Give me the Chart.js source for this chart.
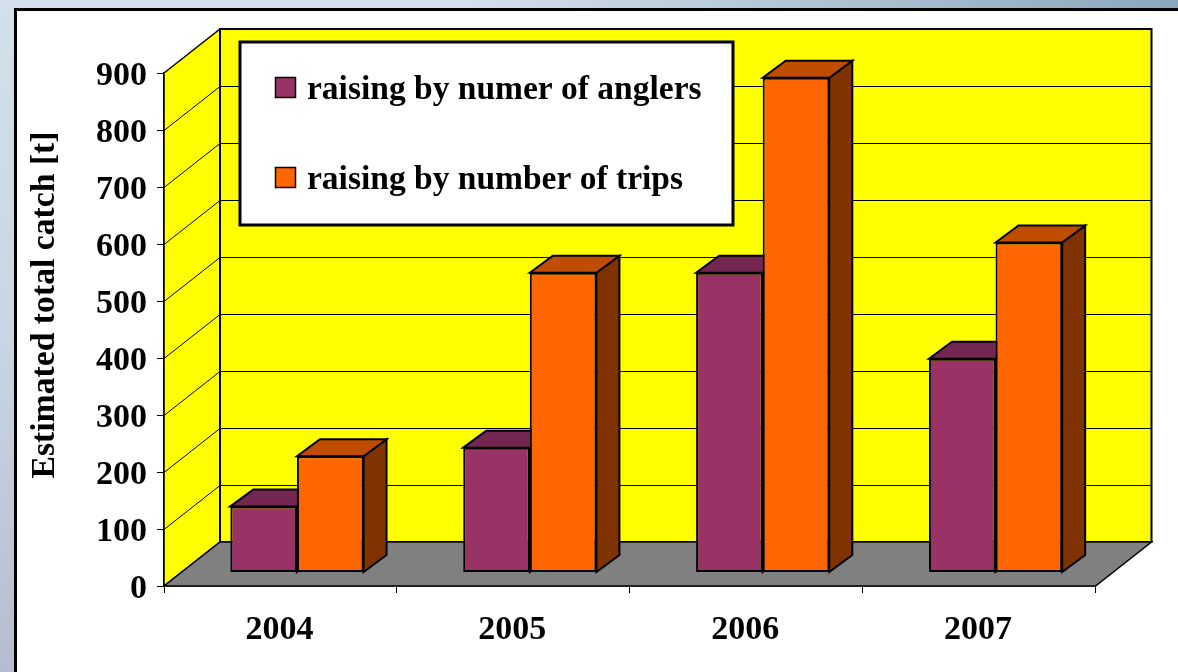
<!DOCTYPE html>
<html>
<head>
<meta charset="utf-8">
<title>Estimated total catch</title>
<script src="https://cdn.jsdelivr.net/npm/chart.js@4"></script>
<style>
    html, body { margin: 0; padding: 0; width: 1178px; height: 672px; overflow: hidden; }
    body {
        position: relative;
        background:
            linear-gradient(90deg, rgba(207,220,232,0) 40%, #8ba6bc 100%),
            linear-gradient(180deg, #d3dfe9 0%, #c9d5e2 50%, #b6bccf 100%);
    }
    #panel {
        position: absolute; left: 14px; top: 8px; width: 1170px; height: 670px;
        background: #fff; border: 3px solid #000;
    }
    #catchChart { position: absolute; left: 0; top: 0; }
</style>
</head>
<body>
<div id="panel"></div>
<canvas id="catchChart" width="1178" height="672"></canvas>
<script>
const years = ['2004', '2005', '2006', '2007'];
const anglers = [116, 219, 526, 375];
const trips = [204, 526, 868, 579];
const anglersLabel = 'raising by numer of anglers';
const tripsLabel = 'raising by number of trips';
const yTitle = 'Estimated total catch [t]';

const serif = '"Liberation Serif", serif';
const wallDx = 56, wallDy = -44;   // back wall depth
const barDx = 16.5, barDy = -13.5; // how far the bars sit inside the floor
const sideDx = 23, sideDy = -17;   // bar depth

function poly(ctx, pts, fill, lw) {
    ctx.beginPath();
    pts.forEach((p, i) => i ? ctx.lineTo(p[0], p[1]) : ctx.moveTo(p[0], p[1]));
    ctx.closePath();
    ctx.fillStyle = fill;
    ctx.fill();
    ctx.lineWidth = lw;
    ctx.strokeStyle = '#000';
    ctx.stroke();
}

// Draws the 3D room, the bar depth and shifts the flat bars into the room
const room3d = {
    id: 'room3d',
    beforeDatasetsDraw(chart) {
        const { ctx, scales: { x, y } } = chart;
        const l = x.left, r = x.right, b = y.bottom, t = y.top;

        ctx.save();
        poly(ctx, [[l, b], [l + wallDx, b + wallDy], [l + wallDx, t + wallDy], [l, t]], '#ffff00', 1.5);
        poly(ctx, [[l + wallDx, b + wallDy], [r + wallDx, b + wallDy], [r + wallDx, t + wallDy], [l + wallDx, t + wallDy]], '#ffff00', 2);
        poly(ctx, [[l, b], [r, b], [r + wallDx, b + wallDy], [l + wallDx, b + wallDy]], '#808080', 1.5);

        // gridlines run along the side wall and the back wall
        ctx.lineWidth = 1;
        ctx.strokeStyle = '#000';
        y.ticks.forEach(tick => {
            if (tick.value === 0 || tick.value === 900) return;
            const py = Math.round(y.getPixelForValue(tick.value)) + 0.5;
            ctx.beginPath();
            ctx.moveTo(l, py);
            ctx.lineTo(l + wallDx, py + wallDy);
            ctx.lineTo(r + wallDx, py + wallDy);
            ctx.stroke();
        });

        // tops and sides, the flat faces go over them afterwards
        chart.data.datasets.forEach((ds, i) => {
            chart.getDatasetMeta(i).data.forEach(bar => {
                const x0 = bar.x - bar.width / 2 + barDx;
                const x1 = bar.x + bar.width / 2 + barDx;
                const y0 = bar.y + barDy;
                const y1 = bar.base + barDy;
                poly(ctx, [[x1, y0], [x1 + sideDx, y0 + sideDy], [x1 + sideDx, y1 + sideDy], [x1, y1]], ds.sideColor, 2);
                poly(ctx, [[x0, y0], [x0 + sideDx, y0 + sideDy], [x1 + sideDx, y0 + sideDy], [x1, y0]], ds.topColor, 2);
            });
        });
        ctx.restore();

        ctx.save();
        ctx.translate(barDx, barDy);
    },
    afterDatasetsDraw(chart) {
        const { ctx } = chart;
        ctx.restore();

        // legend box
        ctx.save();
        ctx.fillStyle = '#fff';
        ctx.strokeStyle = '#000';
        ctx.lineWidth = 3;
        ctx.fillRect(240, 42, 493, 183);
        ctx.strokeRect(240, 42, 493, 183);
        ctx.font = 'bold 33.5px ' + serif;
        ctx.textBaseline = 'alphabetic';
        chart.data.datasets.forEach((ds, i) => {
            const top = i === 0 ? 77 : 167;
            ctx.lineWidth = 1.5;
            ctx.fillStyle = ds.backgroundColor;
            ctx.fillRect(275.5, top + 0.5, 20, 20);
            ctx.strokeRect(275.5, top + 0.5, 20, 20);
            ctx.fillStyle = '#000';
            ctx.fillText(ds.label, 307, top + 22);
        });

        // axis title
        ctx.translate(45, 305);
        ctx.rotate(-Math.PI / 2);
        ctx.textAlign = 'center';
        ctx.textBaseline = 'middle';
        ctx.font = 'bold 33.7px ' + serif;
        ctx.fillText(yTitle, 0, 0);
        ctx.restore();
    }
};

new Chart(document.getElementById('catchChart'), {
    type: 'bar',
    data: {
        labels: years,
        datasets: [
            { label: anglersLabel, data: anglers, backgroundColor: '#993366', borderColor: '#000', borderWidth: 2, borderSkipped: false, topColor: '#732650', sideColor: '#4d1a33' },
            { label: tripsLabel, data: trips, backgroundColor: '#ff6600', borderColor: '#000', borderWidth: 2, borderSkipped: false, topColor: '#bf4d00', sideColor: '#803300' }
        ]
    },
    options: {
        responsive: false,
        animation: false,
        layout: { padding: { left: 0, right: 82.5, top: 73, bottom: 0 } },
        plugins: { legend: { display: false }, tooltip: { enabled: false } },
        datasets: { bar: { categoryPercentage: 0.572, barPercentage: 1 } },
        scales: {
            x: {
                afterFit(scale) { scale.height = 86; },
                grid: { offset: true, drawOnChartArea: false, tickLength: 7, color: '#000', lineWidth: 1 },
                border: { color: '#000', width: 1.5 },
                ticks: { color: '#000', padding: 17, labelOffset: -1, font: { family: serif, size: 34, weight: 'bold' } }
            },
            y: {
                min: 0,
                max: 900,
                afterFit(scale) { scale.width = 164; },
                grid: { drawOnChartArea: false, tickLength: 7, color: '#000', lineWidth: 1 },
                border: { color: '#000', width: 1.5 },
                ticks: { stepSize: 100, color: '#000', padding: 10, labelOffset: 3, font: { family: serif, size: 34, weight: 'bold' } }
            }
        }
    },
    plugins: [room3d]
});
</script>
</body>
</html>
